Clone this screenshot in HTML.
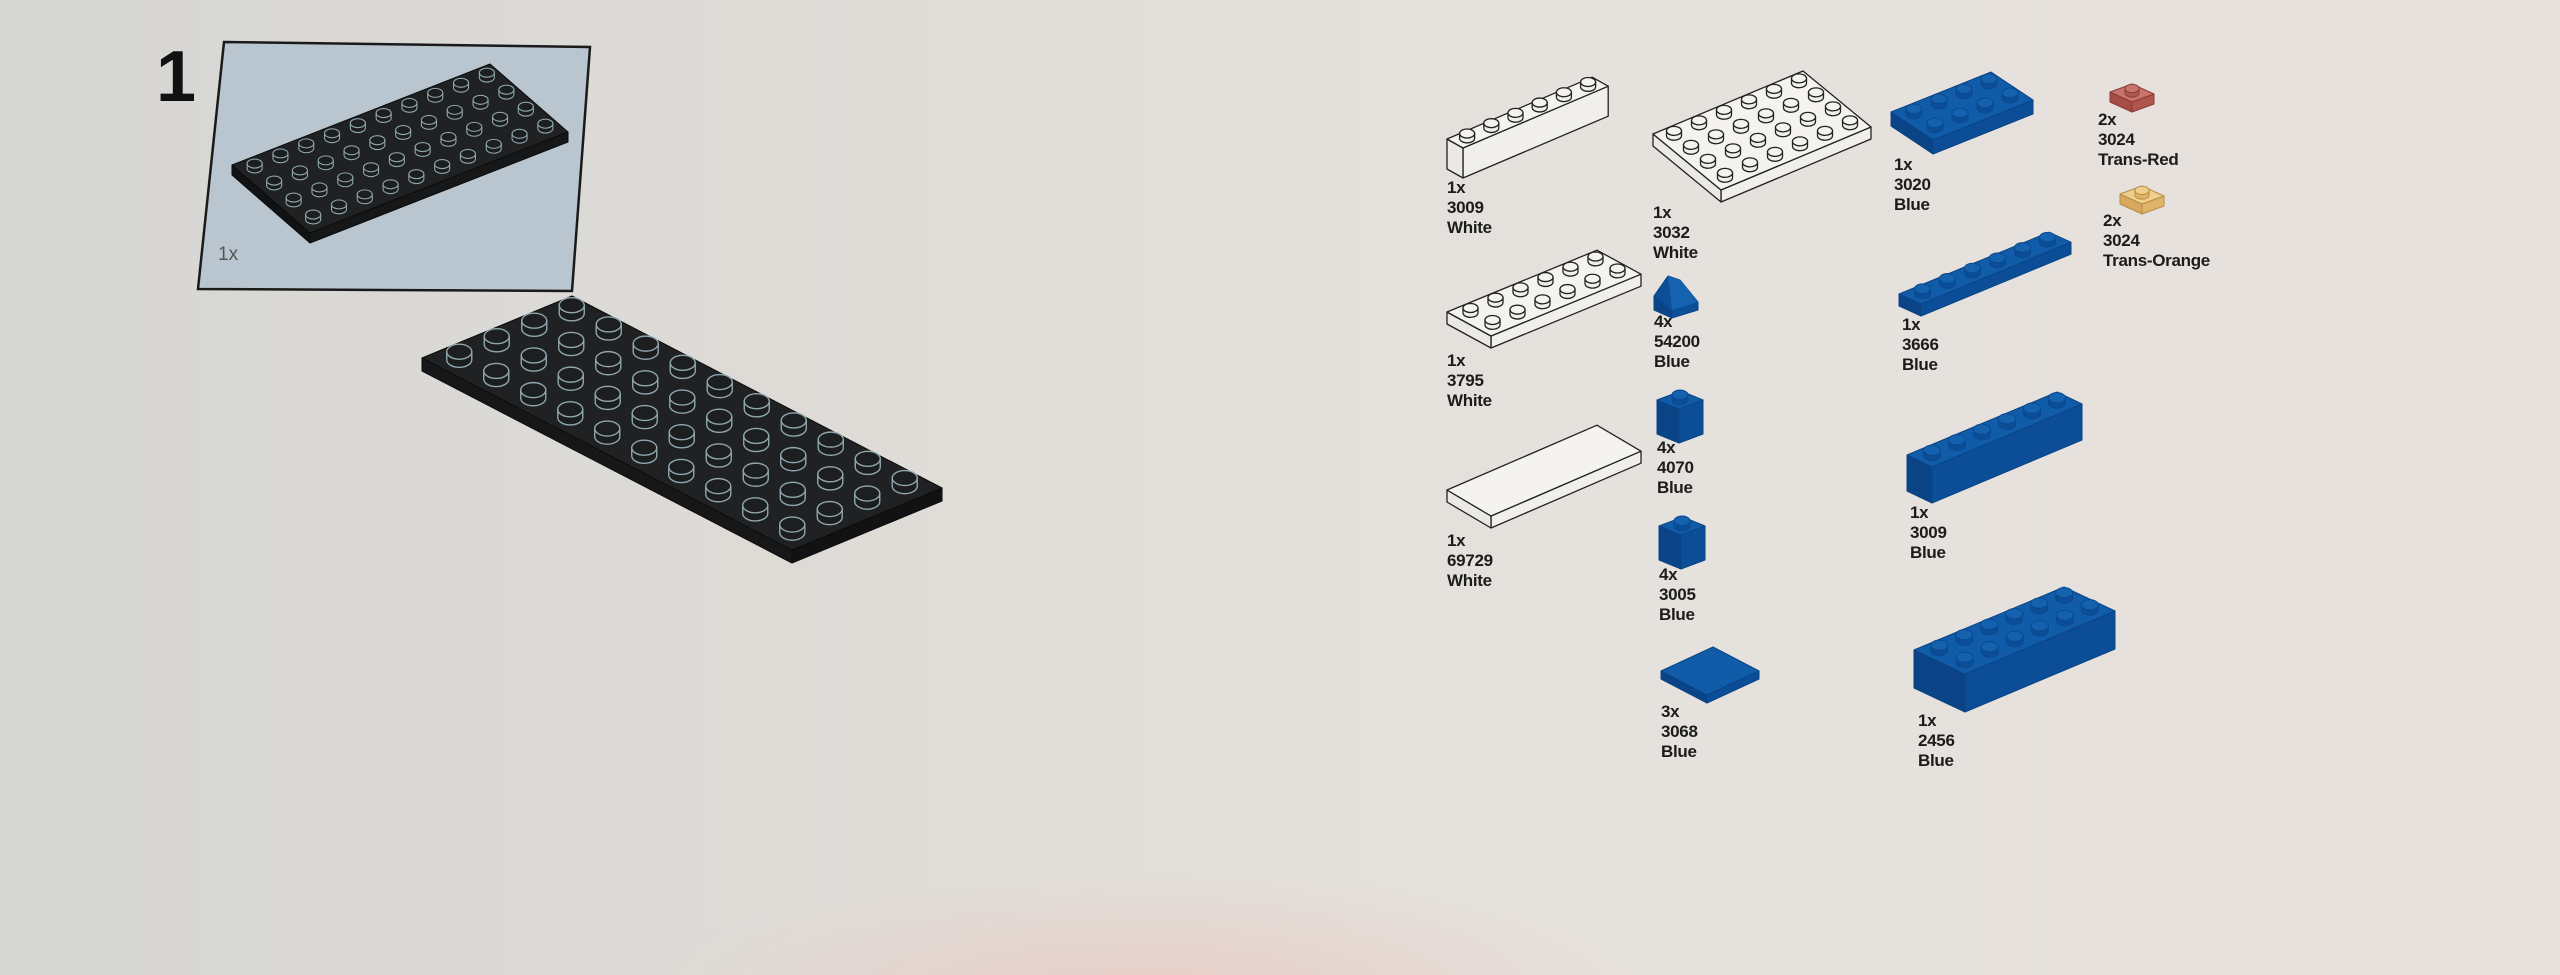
<!DOCTYPE html>
<html><head><meta charset="utf-8">
<style>
html,body{margin:0;padding:0}
body{width:2560px;height:975px;overflow:hidden;position:relative;
background:radial-gradient(ellipse 500px 120px at 1150px 990px,#e8cfc8,rgba(232,207,200,0) 100%),linear-gradient(90deg,#d6d6d4 0%,#dedbd7 30%,#e5e1dc 60%,#e6e1dd 100%);
font-family:"Liberation Sans",Arial,sans-serif}
svg{position:absolute;left:0;top:0}
.l{position:absolute;font-weight:bold;font-size:17px;line-height:20px;color:#1c1c1c;letter-spacing:-0.3px}
</style></head><body>
<svg id="s" width="2560" height="975" viewBox="0 0 2560 975">
<polygon points="224,42 590,47 572,291 198,289" fill="#bac6cf" stroke="#1a1a1a" stroke-width="2.5"/>
</svg>
<div style="position:absolute;left:156px;top:41px;font-size:72px;line-height:72px;font-weight:bold;color:#111">1</div>
<div style="position:absolute;left:218px;top:244px;font-size:19px;color:#555">1x</div>

<div class="l" style="left:1447px;top:178px">1x<br>3009<br>White</div>
<div class="l" style="left:1653px;top:203px">1x<br>3032<br>White</div>
<div class="l" style="left:1894px;top:155px">1x<br>3020<br>Blue</div>
<div class="l" style="left:2098px;top:110px">2x<br>3024<br>Trans-Red</div>
<div class="l" style="left:2103px;top:211px">2x<br>3024<br>Trans-Orange</div>
<div class="l" style="left:1447px;top:351px">1x<br>3795<br>White</div>
<div class="l" style="left:1654px;top:312px">4x<br>54200<br>Blue</div>
<div class="l" style="left:1902px;top:315px">1x<br>3666<br>Blue</div>
<div class="l" style="left:1657px;top:438px">4x<br>4070<br>Blue</div>
<div class="l" style="left:1447px;top:531px">1x<br>69729<br>White</div>
<div class="l" style="left:1659px;top:565px">4x<br>3005<br>Blue</div>
<div class="l" style="left:1910px;top:503px">1x<br>3009<br>Blue</div>
<div class="l" style="left:1661px;top:702px">3x<br>3068<br>Blue</div>
<div class="l" style="left:1918px;top:711px">1x<br>2456<br>Blue</div>

<script>
var s=document.getElementById('s'),NS='http://www.w3.org/2000/svg';
function el(t,a){var e=document.createElementNS(NS,t);for(var k in a)e.setAttribute(k,a[k]);s.appendChild(e);return e;}
function pts(a){return a.map(function(p){return p[0].toFixed(1)+','+p[1].toFixed(1)}).join(' ');}
function brick(o){
 var L=o.L,u=o.u,v=o.v,n1=o.n1,n2=o.n2,h=o.h;
 var P=[[L[0],L[1]],[L[0]+n1*u[0],L[1]+n1*u[1]],[L[0]+n1*u[0]+n2*v[0],L[1]+n1*u[1]+n2*v[1]],[L[0]+n2*v[0],L[1]+n2*v[1]]];
 var li=0;for(var i=1;i<4;i++)if(P[i][1]>P[li][1])li=i;
 var a=P[(li+3)%4],b=P[li],c=P[(li+1)%4];
 var sw=o.sw||1.2;
 [[a,b],[b,c]].forEach(function(e,k){
  var isU=((li===0||li===2)?(k===0?false:true):(k===0?true:false));
  // edge between P0-P1 or P2-P3 is along u
  var idxA=(k===0?(li+3)%4:li),idxB=(k===0?li:(li+1)%4);
  var alongU=((idxA===0&&idxB===1)||(idxA===1&&idxB===0)||(idxA===2&&idxB===3)||(idxA===3&&idxB===2));
  el('polygon',{points:pts([e[0],e[1],[e[1][0],e[1][1]+h],[e[0][0],e[0][1]+h]]),fill:alongU?o.fu:o.fv,stroke:o.st,'stroke-width':sw,'stroke-linejoin':'round'});
 });
 el('polygon',{points:pts(P),fill:o.top,stroke:o.st,'stroke-width':sw,'stroke-linejoin':'round'});
 if(o.studs){
  var list=[];
  for(var i=0;i<n1;i++)for(var j=0;j<n2;j++){
   list.push([L[0]+(i+.5)*u[0]+(j+.5)*v[0],L[1]+(i+.5)*u[1]+(j+.5)*v[1]]);
  }
  list.sort(function(p,q){return p[1]-q[1]});
  var rx=o.rx,ry=rx*0.6,sh=rx*0.65;
  list.forEach(function(c){
   el('path',{d:'M'+(c[0]-rx)+','+c[1]+' A'+rx+','+ry+' 0 0 0 '+(c[0]+rx)+','+c[1]+' L'+(c[0]+rx)+','+(c[1]-sh)+' L'+(c[0]-rx)+','+(c[1]-sh)+' Z',fill:o.ss||o.fu,stroke:o.sst||o.st,'stroke-width':o.ssw||sw});
   el('ellipse',{cx:c[0],cy:c[1]-sh,rx:rx,ry:ry,fill:o.stop||o.top,stroke:o.sst||o.st,'stroke-width':o.ssw||sw});
  });
 }
}
var W={top:'#f5f3ef',fu:'#f1efeb',fv:'#ebe9e5',st:'#222',sw:1.3};
var B={top:'#115ca9',fu:'#0b4e97',fv:'#0a4486',st:'#0a4485',sw:1,stop:'#1461ae',sst:'#0a4a90'};
var D={top:'#1f2123',fu:'#161718',fv:'#111213',st:'#0c0c0c',sw:1,sst:'#8fa7ad',ssw:1.1,ss:'#1b1d1f',stop:'#1c1e20'};
function m(a,b){var r={};for(var k in a)r[k]=a[k];for(var k in b)r[k]=b[k];return r;}
// small plate in box
brick(m(D,{L:[232,165],u:[25.8,-10.1],v:[19.5,17],n1:10,n2:4,h:10,studs:1,rx:7.5}));
// big plate
brick(m(D,{L:[572,296],u:[37,19.2],v:[-37.5,15.5],n1:10,n2:4,h:13,studs:1,rx:12.5,ssw:1.4}));
// white parts
brick(m(W,{L:[1447,139],u:[24.2,-10.3],v:[16,9],n1:6,n2:1,h:30,studs:1,rx:7.5}));
brick(m(W,{L:[1653,134],u:[25,-10.5],v:[17,14],n1:6,n2:4,h:12,studs:1,rx:7.5}));
brick(m(W,{L:[1447,312],u:[25,-10.3],v:[22,12],n1:6,n2:2,h:12,studs:1,rx:7.5}));
brick(m(W,{L:[1447,490],u:[25,-10.8],v:[22,13],n1:6,n2:2,h:12,studs:0}));
// blue parts
brick(m(B,{L:[1891,112],u:[25,-10],v:[21,14],n1:4,n2:2,h:14,studs:1,rx:8}));
brick(m(B,{L:[1899,294],u:[25,-10.3],v:[22,10],n1:6,n2:1,h:12,studs:1,rx:8}));
brick(m(B,{L:[1657,400],u:[24,-9],v:[22,9],n1:1,n2:1,h:34,studs:1,rx:8}));
brick(m(B,{L:[1659,526],u:[24,-9],v:[22,9],n1:1,n2:1,h:34,studs:1,rx:8}));
brick(m(B,{L:[1907,455],u:[25,-10.5],v:[25,12],n1:6,n2:1,h:36,studs:1,rx:8.5}));
brick(m(B,{L:[1661,671],u:[26,-12],v:[23,12],n1:2,n2:2,h:8,studs:0}));
brick(m(B,{L:[1914,650],u:[25,-10.5],v:[25.5,12],n1:6,n2:2,h:38,studs:1,rx:8.5}));
// 1x1 plates
brick({L:[2110,92],u:[22,-8],v:[22,10],n1:1,n2:1,h:10,studs:1,rx:7,top:'#c8746b',fu:'#b0564e',fv:'#a44c45',st:'#8a3d37',sw:1});
brick({L:[2120,194],u:[22,-8],v:[22,10],n1:1,n2:1,h:10,studs:1,rx:7,top:'#efcf8c',fu:'#e0b56a',fv:'#d6a95e',st:'#b88c45',sw:1});
// 54200 slope
el('polygon',{points:'1654,296 1668,276 1680,280 1698,302 1698,310 1672,318 1654,310',fill:'#0c4f98',stroke:'#0a4485','stroke-width':1});
el('polygon',{points:'1668,276 1680,280 1698,302 1672,310',fill:'#1462b0'});
el('polygon',{points:'1654,296 1672,310 1672,318 1654,310',fill:'#0a4486'});
</script>
</body></html>
